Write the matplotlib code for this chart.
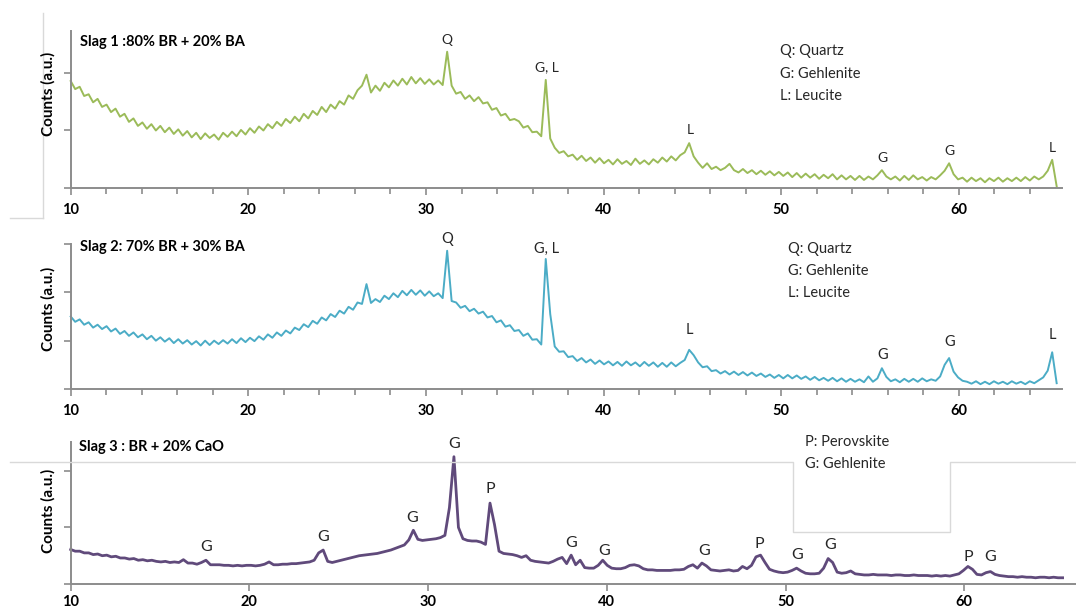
import numpy as np
import matplotlib
matplotlib.use("Agg")
import matplotlib.pyplot as plt
from matplotlib.lines import Line2D

# ---------------- data ----------------
two_theta = np.linspace(10, 65.5, 221)   # 2-theta sampling grid (deg)

slag1_counts = [
    1.86, 1.72, 1.76, 1.60, 1.63, 1.49, 1.55, 1.41, 1.45, 1.32, 1.38, 1.24, 1.29, 1.15, 1.21, 1.08, 1.14, 1.03, 1.11, 1.00,
    1.08, 0.97, 1.05, 0.94, 1.02, 0.91, 0.99, 0.88, 0.96, 0.85, 0.95, 0.87, 0.93, 0.84, 0.96, 0.89, 0.98, 0.90, 1.01, 0.93,
    1.04, 0.96, 1.07, 1.00, 1.11, 1.04, 1.15, 1.08, 1.20, 1.13, 1.24, 1.16, 1.29, 1.21, 1.34, 1.27, 1.41, 1.32, 1.45, 1.38,
    1.51, 1.45, 1.61, 1.55, 1.70, 1.78, 1.97, 1.66, 1.78, 1.69, 1.83, 1.75, 1.87, 1.78, 1.90, 1.80, 1.93, 1.82, 1.91, 1.81,
    1.89, 1.80, 1.87, 1.79, 2.37, 1.78, 1.64, 1.67, 1.55, 1.61, 1.51, 1.58, 1.47, 1.49, 1.36, 1.39, 1.26, 1.29, 1.18, 1.20,
    1.16, 1.05, 1.08, 0.97, 0.98, 0.90, 1.88, 0.86, 0.70, 0.61, 0.64, 0.55, 0.58, 0.49, 0.56, 0.47, 0.53, 0.44, 0.52, 0.43,
    0.49, 0.41, 0.50, 0.42, 0.47, 0.40, 0.51, 0.42, 0.48, 0.41, 0.50, 0.44, 0.53, 0.46, 0.55, 0.48, 0.57, 0.62, 0.78, 0.55,
    0.44, 0.35, 0.43, 0.33, 0.37, 0.31, 0.35, 0.42, 0.31, 0.27, 0.33, 0.26, 0.31, 0.24, 0.30, 0.23, 0.29, 0.22, 0.28, 0.21,
    0.27, 0.19, 0.26, 0.18, 0.25, 0.18, 0.24, 0.16, 0.23, 0.17, 0.24, 0.15, 0.22, 0.15, 0.21, 0.14, 0.21, 0.14, 0.20, 0.15,
    0.22, 0.31, 0.20, 0.15, 0.20, 0.13, 0.21, 0.14, 0.22, 0.15, 0.19, 0.13, 0.19, 0.15, 0.22, 0.30, 0.43, 0.24, 0.15, 0.18,
    0.11, 0.18, 0.12, 0.17, 0.10, 0.17, 0.12, 0.18, 0.11, 0.17, 0.12, 0.18, 0.12, 0.19, 0.13, 0.20, 0.15, 0.20, 0.30, 0.49,
    0.03,
]

slag2_counts = [
    1.50, 1.39, 1.44, 1.33, 1.38, 1.27, 1.33, 1.24, 1.30, 1.19, 1.25, 1.14, 1.20, 1.10, 1.17, 1.07, 1.13, 1.03, 1.10, 1.00,
    1.07, 0.98, 1.05, 0.95, 1.03, 0.94, 1.01, 0.92, 0.99, 0.90, 1.00, 0.91, 1.00, 0.93, 1.01, 0.94, 1.03, 0.95, 1.05, 0.97,
    1.06, 0.99, 1.09, 1.02, 1.13, 1.06, 1.17, 1.10, 1.21, 1.15, 1.27, 1.22, 1.34, 1.28, 1.41, 1.35, 1.48, 1.42, 1.55, 1.49,
    1.62, 1.56, 1.70, 1.64, 1.79, 1.76, 2.17, 1.78, 1.86, 1.80, 1.93, 1.86, 1.98, 1.90, 2.03, 1.94, 2.05, 1.95, 2.04, 1.93,
    2.02, 1.92, 1.98, 1.88, 2.86, 1.82, 1.79, 1.68, 1.72, 1.61, 1.66, 1.56, 1.60, 1.48, 1.51, 1.38, 1.42, 1.29, 1.32, 1.20,
    1.22, 1.10, 1.15, 1.02, 1.03, 0.92, 2.69, 1.55, 0.88, 0.77, 0.78, 0.66, 0.68, 0.58, 0.64, 0.55, 0.61, 0.52, 0.59, 0.51,
    0.57, 0.49, 0.56, 0.48, 0.57, 0.49, 0.55, 0.47, 0.56, 0.48, 0.55, 0.46, 0.54, 0.46, 0.55, 0.47, 0.54, 0.60, 0.81, 0.70,
    0.55, 0.45, 0.47, 0.37, 0.39, 0.32, 0.37, 0.30, 0.36, 0.29, 0.35, 0.28, 0.34, 0.27, 0.32, 0.25, 0.30, 0.23, 0.29, 0.22,
    0.29, 0.22, 0.28, 0.21, 0.26, 0.19, 0.25, 0.18, 0.23, 0.17, 0.23, 0.16, 0.22, 0.15, 0.21, 0.15, 0.20, 0.14, 0.26, 0.15,
    0.22, 0.43, 0.25, 0.16, 0.20, 0.14, 0.21, 0.15, 0.21, 0.15, 0.22, 0.16, 0.20, 0.17, 0.26, 0.50, 0.64, 0.36, 0.24, 0.17,
    0.15, 0.11, 0.16, 0.10, 0.15, 0.10, 0.16, 0.11, 0.15, 0.10, 0.16, 0.11, 0.15, 0.10, 0.16, 0.12, 0.18, 0.24, 0.38, 0.76,
    0.12,
]

slag3_counts = [
    0.61, 0.58, 0.58, 0.55, 0.55, 0.52, 0.53, 0.50, 0.51, 0.48, 0.49, 0.46, 0.46, 0.44, 0.45, 0.42, 0.43, 0.41, 0.42, 0.40,
    0.39, 0.40, 0.38, 0.39, 0.38, 0.43, 0.37, 0.37, 0.35, 0.38, 0.42, 0.34, 0.34, 0.34, 0.33, 0.33, 0.32, 0.33, 0.32, 0.33,
    0.33, 0.32, 0.33, 0.35, 0.39, 0.34, 0.34, 0.35, 0.35, 0.36, 0.36, 0.37, 0.38, 0.39, 0.42, 0.55, 0.60, 0.40, 0.38, 0.40,
    0.42, 0.44, 0.46, 0.48, 0.50, 0.51, 0.52, 0.53, 0.54, 0.56, 0.58, 0.60, 0.63, 0.66, 0.69, 0.78, 0.95, 0.79, 0.77, 0.78,
    0.79, 0.80, 0.82, 0.86, 1.35, 2.25, 1.00, 0.80, 0.77, 0.76, 0.76, 0.74, 0.70, 1.43, 1.05, 0.58, 0.54, 0.53, 0.52, 0.50,
    0.47, 0.50, 0.42, 0.40, 0.39, 0.38, 0.37, 0.40, 0.44, 0.47, 0.36, 0.51, 0.34, 0.42, 0.29, 0.28, 0.28, 0.33, 0.42, 0.33,
    0.28, 0.27, 0.27, 0.29, 0.33, 0.34, 0.32, 0.27, 0.25, 0.25, 0.24, 0.24, 0.24, 0.24, 0.25, 0.25, 0.26, 0.31, 0.34, 0.28,
    0.37, 0.32, 0.25, 0.24, 0.23, 0.24, 0.25, 0.23, 0.24, 0.31, 0.27, 0.33, 0.48, 0.51, 0.38, 0.26, 0.23, 0.21, 0.20, 0.21,
    0.24, 0.28, 0.23, 0.19, 0.18, 0.18, 0.19, 0.28, 0.45, 0.38, 0.21, 0.19, 0.20, 0.23, 0.18, 0.17, 0.16, 0.16, 0.17, 0.16,
    0.16, 0.16, 0.15, 0.16, 0.16, 0.15, 0.15, 0.16, 0.15, 0.15, 0.15, 0.14, 0.15, 0.14, 0.15, 0.14, 0.16, 0.18, 0.24, 0.31,
    0.26, 0.17, 0.16, 0.20, 0.22, 0.17, 0.15, 0.14, 0.13, 0.13, 0.12, 0.13, 0.12, 0.12, 0.11, 0.12, 0.12, 0.11, 0.12, 0.11,
    0.11,
]

x_tick_values = [10, 20, 30, 40, 50, 60]
x_tick_labels = ["10", "20", "30", "40", "50", "60"]

panel_titles = ["Slag 1 :80% BR + 20% BA", "Slag 2: 70% BR + 30% BA", "Slag 3 : BR + 20% CaO"]
legend1 = ["Q: Quartz", "G: Gehlenite", "L: Leucite"]
legend2 = ["Q: Quartz", "G: Gehlenite", "L: Leucite"]
legend3 = ["P: Perovskite", "G: Gehlenite"]

# peak labels: (text, 2-theta, height)
peaks1 = [("Q", 31.2, 2.57), ("G, L", 36.8, 2.10), ("L", 44.85, 1.01),
          ("G", 55.7, 0.52), ("G", 59.45, 0.64), ("L", 65.25, 0.70)]
peaks2 = [("Q", 31.2, 3.10), ("G, L", 36.8, 2.90), ("L", 44.85, 1.23),
          ("G", 55.7, 0.71), ("G", 59.45, 0.98), ("L", 65.25, 1.12)]
peaks3 = [("G", 17.57, 0.65), ("G", 24.13, 0.83), ("G", 29.13, 1.17), ("G", 31.44, 2.48),
          ("P", 33.46, 1.68), ("G", 37.98, 0.73), ("G", 39.87, 0.58), ("G", 45.42, 0.58),
          ("P", 48.55, 0.71), ("G", 50.67, 0.51), ("G", 52.48, 0.69), ("P", 60.2, 0.48),
          ("G", 61.42, 0.48)]

# ---------------- figure ----------------
W, H = 1076, 610
FONT = "Lato"
GREY = "#8c8c8c"
LIGHT = "#d9d9d9"
TXT = "#262626"

fig = plt.figure(figsize=(W / 100, H / 100), dpi=100)
fig.patch.set_facecolor("white")


def px_rect(left, top, right, bottom):
    return [left / W, 1 - bottom / H, (right - left) / W, (bottom - top) / H]


def fx(x):
    return x / W


def fy(y):
    return 1 - y / H


def style(ax, ymax, yticks, xmax, minor, pad):
    ax.set_xlim(10, xmax)
    ax.set_ylim(0, ymax)
    ax.set_facecolor("none")
    for s in ["top", "right"]:
        ax.spines[s].set_visible(False)
    for s in ["left", "bottom"]:
        ax.spines[s].set_color(GREY)
        ax.spines[s].set_linewidth(1.4)
    ax.set_xticks(x_tick_values)
    ax.set_xticklabels(x_tick_labels, fontsize=10.5, fontweight="bold", family=FONT)
    if minor:
        ax.set_xticks([v for v in range(12, 65, 2) if v % 10], minor=True)
    ax.set_yticks(yticks)
    ax.set_yticklabels([])
    ax.tick_params(axis="both", which="both", direction="out", color=GREY, width=1.2)
    ax.tick_params(axis="x", which="major", length=5, pad=pad)
    ax.tick_params(axis="x", which="minor", length=4)
    ax.tick_params(axis="y", which="major", length=5)


# grey remnants of the pasted frames
fig.add_artist(Line2D([fx(43), fx(43)], [fy(13), fy(218)], color=LIGHT, lw=1.0))
fig.add_artist(Line2D([fx(10), fx(43)], [fy(218), fy(218)], color=LIGHT, lw=1.0))
fig.add_artist(Line2D([fx(10), fx(793), fx(793), fx(950), fx(950), fx(1076)],
                      [fy(462), fy(462), fy(532), fy(532), fy(462), fy(462)], color=LIGHT, lw=1.0))

ax1 = fig.add_axes(px_rect(70.7, 31, 1062, 188))
ax2 = fig.add_axes(px_rect(70.7, 244, 1062, 389))
ax3 = fig.add_axes(px_rect(70.7, 442, 1076, 584))

style(ax1, 2.73, [0, 1, 2], 65.8, True, 6)
style(ax2, 3.0, [0, 1, 2, 3], 65.8, True, 6)
style(ax3, 2.51, [0, 1, 2], 66.25, False, 3)

ax1.plot(two_theta, slag1_counts, color="#9bbb59", lw=1.4, clip_on=False)
ax2.plot(two_theta, slag2_counts, color="#4bacc6", lw=1.4, clip_on=False)
ax3.plot(two_theta, slag3_counts, color="#604a7b", lw=2.0, clip_on=False)

for ax, peaks, fs in [(ax1, peaks1, 10), (ax2, peaks2, 10.5), (ax3, peaks3, 11.5)]:
    for txt, xp, yp in peaks:
        ax.text(xp, yp, txt, ha="center", va="center", fontsize=fs, family=FONT,
                color=TXT, clip_on=False)

# panel titles
fig.text(fx(80), fy(42), panel_titles[0], fontsize=10.5, fontweight="bold", family=FONT, va="center")
fig.text(fx(80), fy(247), panel_titles[1], fontsize=10.5, fontweight="bold", family=FONT, va="center")
fig.text(fx(79), fy(447), panel_titles[2], fontsize=10.5, fontweight="bold", family=FONT, va="center")

# y labels
for yc in (94, 309, 511):
    fig.text(fx(48), fy(yc), "Counts (a.u.)", rotation=90, fontsize=11, fontweight="bold",
             family=FONT, ha="center", va="center")

# legends (plain text keys)
for i, t in enumerate(legend1):
    fig.text(fx(780), fy(51 + 22.5 * i), t, fontsize=10.5, family=FONT, va="center", color=TXT)
for i, t in enumerate(legend2):
    fig.text(fx(788), fy(249 + 22 * i), t, fontsize=10.5, family=FONT, va="center", color=TXT)
for i, t in enumerate(legend3):
    fig.text(fx(805), fy(442 + 21.5 * i), t, fontsize=10.5, family=FONT, va="center", color=TXT)

fig.savefig("out.png", dpi=100)
